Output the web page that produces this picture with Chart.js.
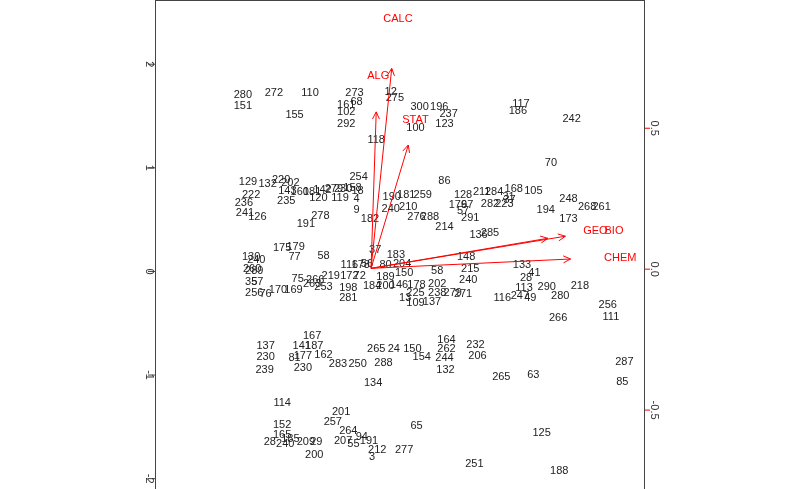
<!DOCTYPE html>
<html><head><meta charset="utf-8">
<script src="https://cdn.jsdelivr.net/npm/chart.js@4"></script>
<style>html,body{margin:0;padding:0;background:#fff}#w{width:800px;height:489px}</style>
</head><body><div id="w"><canvas id="c"></canvas></div>
<script>
const labels=["280","151","272","110","155","273","68","161","102","292","12","275","300","196","237","123","100","118","117","186","242","70",
"129","220","132","202","254","222","143","160","181","142","279","230","158","18","120","119","4","9","278","235","236","241","126","191","182",
"86","190","181","259","240","210","276","288","214","128","176","97","57","291","282","223","284","211","168","105","31","37","194","248","173","268","261","136","285",
"175","179","77","58","130","240","37","183","148","133","41","28","215","260","289","35","57","256","76","75","266","219","263",
"116","178","172","72","56","80","204","150","189","184","200","146","178","58","202","240","271","279","238","225","13","109","137",
"170","169","253","198","281","113","290","280","218","116","247","49","256","111","266",
"167","141","187","137","230","81","177","162","230","283","250","239","265","24","150","154","288","134","164","262","244","132","232","206","265","63","287","85",
"114","152","165","185","28","240","209","29","200","201","257","264","207","94","55","191","212","3","277","65","125","251","188"];
const xs=[-1.24,-1.24,-0.94,-0.59,-0.74,-0.16,-0.14,-0.24,-0.24,-0.24,0.19,0.23,0.47,0.66,0.75,0.71,0.43,0.05,1.45,1.42,1.94,1.74,
-1.19,-0.87,-1.00,-0.78,-0.12,-1.16,-0.81,-0.69,-0.57,-0.47,-0.36,-0.27,-0.18,-0.13,-0.51,-0.30,-0.14,-0.14,-0.49,-0.82,-1.23,-1.22,-1.10,-0.63,-0.01,
0.71,0.20,0.34,0.50,0.19,0.36,0.44,0.57,0.71,0.89,0.84,0.93,0.89,0.96,1.15,1.29,1.19,1.07,1.38,1.57,1.33,1.34,1.69,1.91,1.91,2.09,2.23,1.04,1.15,
-0.86,-0.73,-0.74,-0.46,-1.16,-1.11,0.04,0.24,0.92,1.46,1.58,1.50,0.96,-1.15,-1.13,-1.16,-1.10,-1.13,-1.02,-0.71,-0.54,-0.39,-0.57,
-0.21,-0.10,-0.21,-0.11,-0.04,0.14,0.30,0.32,0.14,0.01,0.14,0.27,0.44,0.64,0.64,0.94,0.89,0.79,0.64,0.43,0.33,0.43,0.59,
-0.90,-0.75,-0.46,-0.22,-0.22,1.48,1.70,1.83,2.02,1.27,1.44,1.54,2.29,2.32,1.81,
-0.57,-0.67,-0.55,-1.02,-1.02,-0.74,-0.66,-0.46,-0.66,-0.32,-0.13,-1.03,0.05,0.22,0.40,0.49,0.12,0.02,0.73,0.73,0.71,0.72,1.01,1.03,1.26,1.57,2.45,2.43,
-0.86,-0.86,-0.86,-0.78,-0.98,-0.83,-0.63,-0.53,-0.55,-0.29,-0.37,-0.22,-0.27,-0.09,-0.17,-0.02,0.06,0.01,0.32,0.44,1.65,1.00,1.82];
const ys=[1.70,1.60,1.72,1.72,1.51,1.72,1.64,1.61,1.54,1.42,1.73,1.67,1.59,1.59,1.52,1.42,1.38,1.27,1.62,1.55,1.47,1.05,
0.86,0.88,0.84,0.85,0.91,0.74,0.78,0.77,0.77,0.79,0.80,0.80,0.81,0.78,0.71,0.71,0.70,0.59,0.54,0.68,0.66,0.56,0.53,0.46,0.51,
0.87,0.72,0.74,0.74,0.60,0.62,0.53,0.53,0.43,0.74,0.64,0.64,0.58,0.52,0.65,0.65,0.77,0.77,0.80,0.78,0.72,0.69,0.59,0.70,0.51,0.62,0.62,0.35,0.37,
0.23,0.24,0.14,0.15,0.14,0.11,0.21,0.16,0.14,0.06,-0.01,-0.06,0.02,0.02,0.00,-0.10,-0.10,-0.21,-0.22,-0.07,-0.08,-0.04,-0.12,
0.06,0.06,-0.04,-0.04,0.07,0.06,0.07,-0.01,-0.05,-0.14,-0.14,-0.13,-0.13,0.00,-0.12,-0.08,-0.22,-0.21,-0.21,-0.21,-0.26,-0.30,-0.29,
-0.18,-0.18,-0.15,-0.16,-0.26,-0.16,-0.15,-0.24,-0.14,-0.26,-0.24,-0.26,-0.32,-0.44,-0.45,
-0.62,-0.72,-0.72,-0.72,-0.83,-0.84,-0.82,-0.81,-0.93,-0.89,-0.89,-0.95,-0.75,-0.75,-0.75,-0.83,-0.88,-1.08,-0.66,-0.75,-0.84,-0.95,-0.71,-0.82,-1.02,-1.00,-0.87,-1.07,
-1.27,-1.48,-1.58,-1.62,-1.65,-1.67,-1.65,-1.65,-1.77,-1.36,-1.45,-1.54,-1.64,-1.60,-1.67,-1.64,-1.72,-1.79,-1.72,-1.49,-1.56,-1.86,-1.93];
const varNames=["CALC","ALG","STAT","GEO","BIO","CHEM"];
const arrowX=[0.20,0.05,0.36,1.71,1.88,1.93];
const arrowY=[1.96,1.54,1.22,0.32,0.34,0.12];
const varLabelX=[0.26,0.07,0.43,2.17,2.35,2.41];
const varLabelY=[2.44,1.89,1.46,0.39,0.39,0.13];
const arrowOrigin=[0,0.03];
const leftTicks=[-2,-1,0,1,2];
const rightTicks=[-0.5,0.0,0.5];
const rightTickText=["-0.5","0.0","0.5"];

const pts=xs.map((x,i)=>({x:x,y:ys[i]}));
const FONT='11px "Liberation Sans", Arial, sans-serif';
const biplot={id:'biplot',afterDraw(ch){
  const c=ch.ctx,X=ch.scales.x,Y=ch.scales.y,Y2=ch.scales.y2,a=ch.chartArea;
  c.save();
  c.font=FONT;c.textAlign='center';c.textBaseline='middle';c.fillStyle='#222';
  pts.forEach((p,i)=>c.fillText(labels[i],X.getPixelForValue(p.x),Y.getPixelForValue(p.y)));
  c.strokeStyle='#ff0000';c.fillStyle='#ff0000';c.lineWidth=1;
  const ox=X.getPixelForValue(arrowOrigin[0]),oy=Y.getPixelForValue(arrowOrigin[1]);
  arrowX.forEach((ax,i)=>{
    const tx=X.getPixelForValue(ax),ty=Y.getPixelForValue(arrowY[i]);
    c.beginPath();c.moveTo(ox,oy);c.lineTo(tx,ty);c.stroke();
    const ang=Math.atan2(ty-oy,tx-ox),L=8,w=0.45;
    c.beginPath();c.moveTo(tx-L*Math.cos(ang-w),ty-L*Math.sin(ang-w));c.lineTo(tx,ty);
    c.lineTo(tx-L*Math.cos(ang+w),ty-L*Math.sin(ang+w));c.stroke();
    c.fillText(varNames[i],X.getPixelForValue(varLabelX[i]),Y.getPixelForValue(varLabelY[i]));
  });
  c.strokeStyle='#444';c.lineWidth=1;
  c.strokeRect(a.left+0.5,a.top+0.5,a.right-a.left-1,a.bottom-a.top);
  c.fillStyle='#333';c.font=FONT;
  leftTicks.forEach(t=>{const y=Y.getPixelForValue(t);
    c.strokeStyle='#444';
    c.beginPath();c.moveTo(a.left,y);c.lineTo(a.left-7,y);c.stroke();
    c.save();c.translate(a.left-6,y);c.rotate(Math.PI/2);c.fillText(String(t),0,0);c.restore();});
  rightTicks.forEach((t,i)=>{const y=Y2.getPixelForValue(t);
    c.strokeStyle='#ff0000';
    c.beginPath();c.moveTo(a.right,y);c.lineTo(a.right+5,y);c.stroke();
    c.save();c.translate(a.right+9,y);c.rotate(Math.PI/2);c.fillText(rightTickText[i],0,0);c.restore();});
  c.restore();
}};
new Chart(document.getElementById('c'),{
  type:'scatter',
  data:{datasets:[{data:pts,pointRadius:0}]},
  options:{responsive:true,maintainAspectRatio:false,animation:false,
    layout:{padding:0},
    plugins:{legend:{display:false},tooltip:{enabled:false}},
    scales:{
      x:{type:'linear',min:-2.09,max:2.65,display:false},
      y:{type:'linear',min:-2.10,max:2.62,position:'left',grid:{display:false},ticks:{display:false},border:{display:false},
         afterFit(s){s.width=155;}},
      y2:{type:'linear',min:-0.78,max:0.955,position:'right',grid:{display:false},ticks:{display:false},border:{display:false},
         afterFit(s){s.width=155;}}
    }},
  plugins:[biplot]
});
</script></body></html>
